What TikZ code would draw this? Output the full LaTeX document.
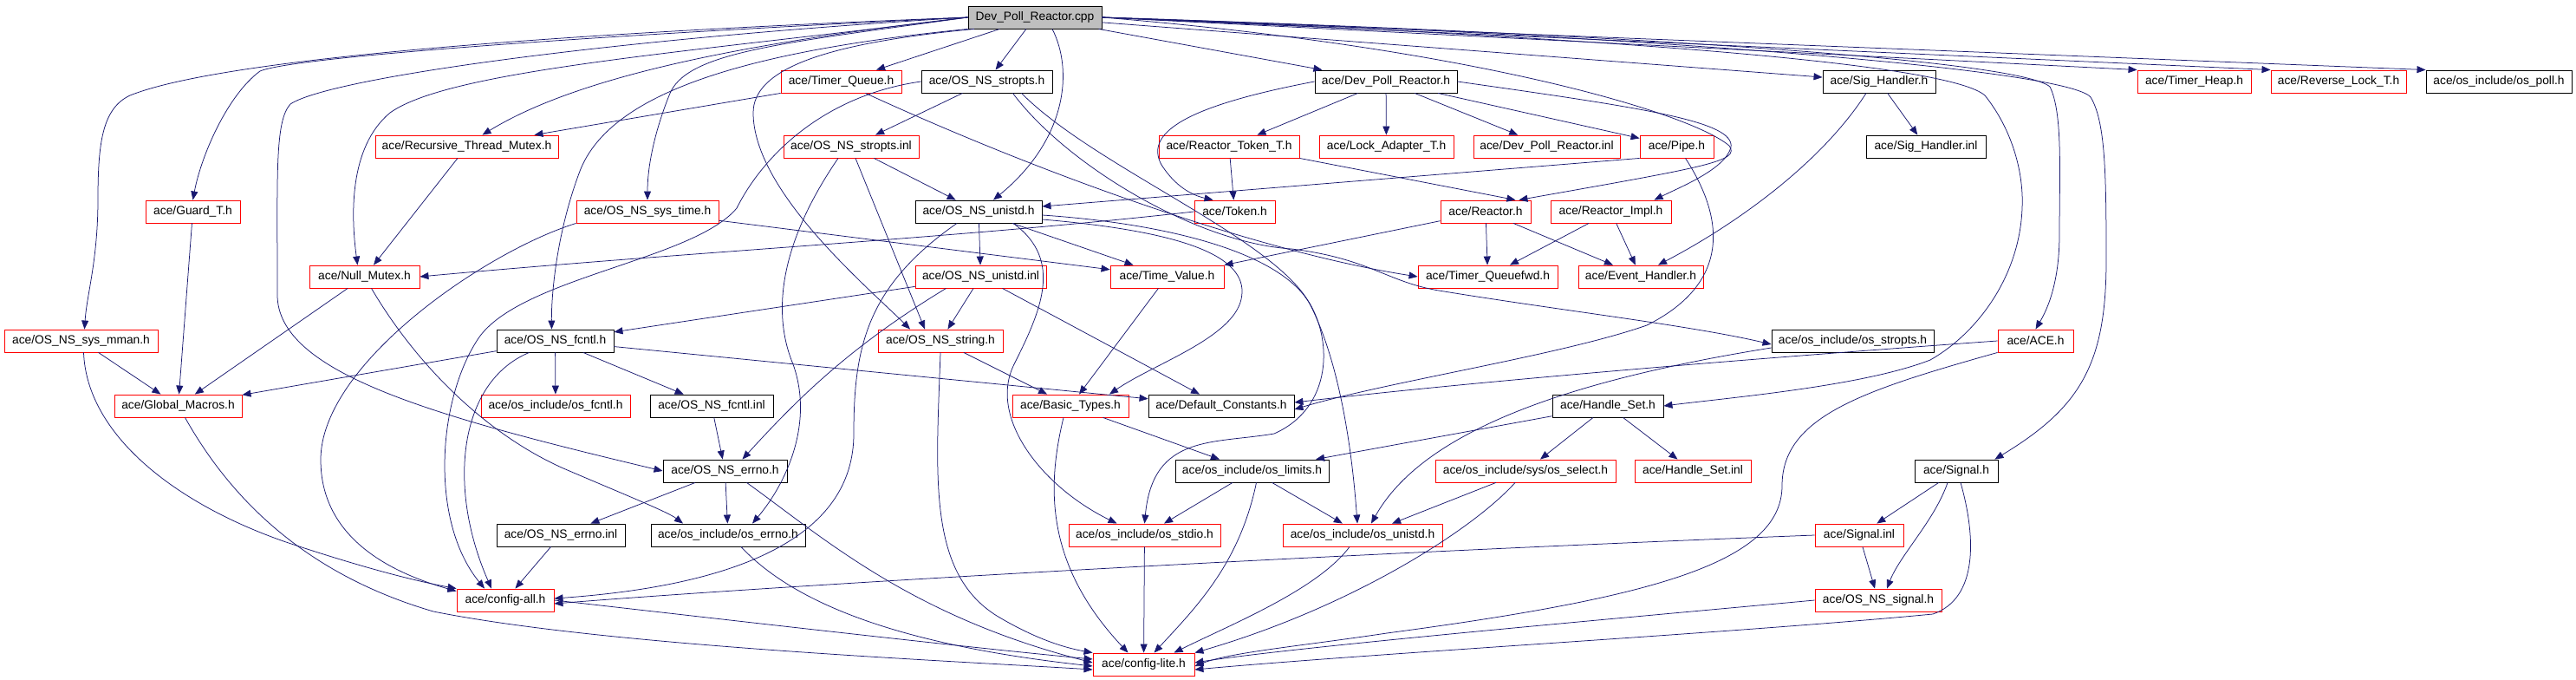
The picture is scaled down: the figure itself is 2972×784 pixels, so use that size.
\documentclass[tikz,border=0pt]{standalone}
\usepackage{fontspec}
\setmainfont{Liberation Sans}
\usetikzlibrary{arrows.meta}
\definecolor{edgecol}{RGB}{25,25,112}
\definecolor{rootfill}{RGB}{191,191,191}
\begin{document}
\begin{tikzpicture}[x=1pt,y=-1pt,
  box/.style={rectangle, minimum height=26pt, inner sep=0pt, line width=0.9pt, font=\fontsize{13.8}{15}\selectfont},
  rb/.style={box, draw=red},
  bb/.style={box, draw=black},
  rootbox/.style={box, draw=black, fill=rootfill},
  e/.style={draw=edgecol, line width=0.75pt, -{Triangle[length=10pt,width=8pt]}}]
\useasboundingbox (0,0) rectangle (2972,784);
\fill[white] (0,0) rectangle (2972,784);
% row 1
\node[rootbox, minimum width=154pt] (root) at (1194,20) {Dev\_Poll\_Reactor.cpp};
% row 2
\node[rb, minimum width=139pt] (tq) at (970.5,94) {ace/Timer\_Queue.h};
\node[bb, minimum width=151pt] (stropts) at (1138.5,94) {ace/OS\_NS\_stropts.h};
\node[bb, minimum width=164pt] (dprh) at (1599,94) {ace/Dev\_Poll\_Reactor.h};
\node[bb, minimum width=130pt] (sigh) at (2168,94) {ace/Sig\_Handler.h};
\node[rb, minimum width=131pt] (theap) at (2531.5,94) {ace/Timer\_Heap.h};
\node[rb, minimum width=156pt] (rlock) at (2698,94) {ace/Reverse\_Lock\_T.h};
\node[bb, minimum width=168pt] (ospoll) at (2883,94) {ace/os\_include/os\_poll.h};
% row 3
\node[rb, minimum width=211pt] (rtm) at (538.5,169) {ace/Recursive\_Thread\_Mutex.h};
\node[rb, minimum width=156pt] (stroptsinl) at (982,169) {ace/OS\_NS\_stropts.inl};
\node[rb, minimum width=162pt] (rtt) at (1418,169) {ace/Reactor\_Token\_T.h};
\node[rb, minimum width=155pt] (lock) at (1599.5,169) {ace/Lock\_Adapter\_T.h};
\node[rb, minimum width=169pt] (dprinl) at (1784.5,169) {ace/Dev\_Poll\_Reactor.inl};
\node[rb, minimum width=85pt] (pipe) at (1934.5,169) {ace/Pipe.h};
\node[bb, minimum width=138pt] (sighinl) at (2222,169) {ace/Sig\_Handler.inl};
% row 4
\node[rb, minimum width=109pt] (guard) at (222.5,244) {ace/Guard\_T.h};
\node[rb, minimum width=164pt] (systime) at (747,244) {ace/OS\_NS\_sys\_time.h};
\node[bb, minimum width=146pt] (unistd) at (1129,244) {ace/OS\_NS\_unistd.h};
\node[rb, minimum width=93pt] (token) at (1424.5,244) {ace/Token.h};
\node[rb, minimum width=104pt] (reactor) at (1714,244) {ace/Reactor.h};
\node[rb, minimum width=139pt] (rimpl) at (1858.5,244) {ace/Reactor\_Impl.h};
% row 5
\node[rb, minimum width=127pt] (nullm) at (420.5,319) {ace/Null\_Mutex.h};
\node[rb, minimum width=151pt] (unistdinl) at (1131.5,319) {ace/OS\_NS\_unistd.inl};
\node[rb, minimum width=131pt] (timev) at (1346.5,319) {ace/Time\_Value.h};
\node[rb, minimum width=161pt] (tqfwd) at (1716.5,319) {ace/Timer\_Queuefwd.h};
\node[rb, minimum width=144pt] (evh) at (1893,319) {ace/Event\_Handler.h};
% row 6
\node[rb, minimum width=177pt] (mman) at (93.5,393) {ace/OS\_NS\_sys\_mman.h};
\node[bb, minimum width=135pt] (fcntl) at (640.5,393) {ace/OS\_NS\_fcntl.h};
\node[rb, minimum width=144pt] (string) at (1085,393) {ace/OS\_NS\_string.h};
\node[bb, minimum width=187pt] (osstropts) at (2137.5,393) {ace/os\_include/os\_stropts.h};
\node[rb, minimum width=87pt] (ace) at (2348.5,393) {ace/ACE.h};
% row 7
\node[rb, minimum width=147pt] (gmac) at (205.5,468) {ace/Global\_Macros.h};
\node[rb, minimum width=172pt] (osfcntl) at (641,468) {ace/os\_include/os\_fcntl.h};
\node[bb, minimum width=142pt] (fcntlinl) at (821,468) {ace/OS\_NS\_fcntl.inl};
\node[rb, minimum width=134pt] (basic) at (1235,468) {ace/Basic\_Types.h};
\node[bb, minimum width=168pt] (defc) at (1409,468) {ace/Default\_Constants.h};
\node[bb, minimum width=128pt] (hset) at (1855,468) {ace/Handle\_Set.h};
% row 8
\node[bb, minimum width=143pt] (errno) at (836.5,543) {ace/OS\_NS\_errno.h};
\node[bb, minimum width=177pt] (oslimits) at (1444.5,543) {ace/os\_include/os\_limits.h};
\node[rb, minimum width=208pt] (osselect) at (1760,543) {ace/os\_include/sys/os\_select.h};
\node[rb, minimum width=134pt] (hsetinl) at (1953,543) {ace/Handle\_Set.inl};
\node[bb, minimum width=96pt] (signal) at (2257,543) {ace/Signal.h};
% row 9
\node[bb, minimum width=148pt] (errnoinl) at (647,617) {ace/OS\_NS\_errno.inl};
\node[bb, minimum width=178pt] (oserrno) at (840,617) {ace/os\_include/os\_errno.h};
\node[rb, minimum width=175pt] (osstdio) at (1320.5,617) {ace/os\_include/os\_stdio.h};
\node[rb, minimum width=184pt] (osunistd) at (1572,617) {ace/os\_include/os\_unistd.h};
\node[rb, minimum width=102pt] (signalinl) at (2145,617) {ace/Signal.inl};
% row 10
\node[rb, minimum width=112pt] (configall) at (583,692) {ace/config-all.h};
\node[rb, minimum width=146pt] (ossignal) at (2167,692) {ace/OS\_NS\_signal.h};
% row 11
\node[rb, minimum width=117pt] (configlite) at (1319.5,766) {ace/config-lite.h};

% ---- edges from root, left side
\draw[e] (root.west) .. controls (600,40) and (250,70) .. (150,110) .. controls (118,125) and (113,165) .. (113,230) .. controls (113,300) and (100,340) .. ([xshift=4]mman.north);
\draw[e] (root.west) .. controls (700,40) and (340,65) .. (300,82) .. controls (262,110) and (232,180) .. (guard.north);
\draw[e] (root.west) .. controls (900,45) and (680,80) .. ([xshift=18]rtm.north);
\draw[e] (root.west) .. controls (800,60) and (520,80) .. (450,130) .. controls (402,170) and (405,250) .. ([xshift=-8]nullm.north);
\draw[e] (root.south west) .. controls (850,60) and (700,110) .. (668,200) .. controls (642,270) and (636,340) .. ([xshift=-4]fcntl.north);
\draw[e] (root.west) .. controls (900,50) and (790,60) .. (772,110) .. controls (756,150) and (747,190) .. (systime.north);
\draw[e] (root.west) .. controls (700,45) and (380,90) .. (335,120) .. controls (317,140) and (320,200) .. (320,340) .. controls (320,430) and (500,480) .. (errno.west);
\draw[e] (root) -- (tq);
\draw[e] (root) -- (stropts);
\draw[e] ([xshift=20]root.south) .. controls (1238,80) and (1232,160) .. ([xshift=17]unistd.north);
\draw[e] ([xshift=-70]root.south) .. controls (950,50) and (869,80) .. (869,130) .. controls (869,220) and (1000,330) .. ([xshift=-35]string.north);
% ---- edges from root, right side
\draw[e] (root) -- (dprh);
\draw[e] (root.east) .. controls (1700,55) and (1950,130) .. (1995,168) .. controls (2008,186) and (1970,192) .. ([xshift=-14]reactor.north east);
\draw[e] (root) -- (sigh);
\draw[e] (root.east) -- (theap.north west);
\draw[e] (root.east) -- (rlock.north west);
\draw[e] (root.east) -- (ospoll.north west);
\draw[e] (root.east) .. controls (1900,40) and (2330,70) .. (2365,100) .. controls (2380,130) and (2376,200) .. (2376,270) .. controls (2376,330) and (2360,360) .. (ace.north);
\draw[e] (root.east) .. controls (1900,40) and (2385,80) .. (2412,112) .. controls (2429,140) and (2430,200) .. (2430,300) .. controls (2430,420) and (2400,470) .. ([xshift=-4]signal.north east);
\draw[e] (root.east) .. controls (1900,45) and (2250,75) .. (2290,110) .. controls (2322,150) and (2335,200) .. (2333,240) .. controls (2330,320) and (2280,385) .. (2227,415) .. controls (2150,445) and (2000,458) .. (hset.east);
% ---- mutex / macros
\draw[e] (tq.south west) -- ([xshift=-28]rtm.north east);
\draw[e] ([xshift=28]tq.south) .. controls (1200,200) and (1450,290) .. (tqfwd.west);
\draw[e] (rtm) -- (nullm);
\draw[e] (token.west) .. controls (1100,275) and (800,290) .. (nullm.east);
\draw[e] (nullm) -- (gmac);
\draw[e] ([xshift=8]nullm.south) .. controls (480,420) and (560,500) .. (650,540) .. controls (720,570) and (770,590) .. ([xshift=-52]oserrno.north);
\draw[e] (guard) -- (gmac);
\draw[e] (mman) -- (gmac);
\draw[e] ([xshift=3]mman.south) .. controls (100,500) and (200,580) .. (330,625) .. controls (420,655) and (480,670) .. (configall.north west);
\draw[e] (systime.south west) .. controls (560,290) and (370,420) .. (370,530) .. controls (370,620) and (450,660) .. ([yshift=-3]configall.north west);
\draw[e] (systime) -- (timev);
% ---- fcntl
\draw[e] (fcntl) -- (gmac);
\draw[e] (fcntl) -- (osfcntl);
\draw[e] (fcntl) -- (fcntlinl);
\draw[e] (fcntl) -- (defc);
\draw[e] ([xshift=-30]fcntl.south) .. controls (530,440) and (515,560) .. ([xshift=-16]configall.north);
\draw[e] (fcntlinl) -- (errno);
% ---- stropts
\draw[e] (stropts.west) .. controls (950,110) and (880,180) .. (850,240) .. controls (800,300) and (600,320) .. (552,390) .. controls (505,460) and (495,600) .. ([xshift=-24]configall.north);
\draw[e] (stropts) -- (stroptsinl);
\draw[e] ([xshift=30]stropts.south) .. controls (1230,190) and (1380,280) .. (1490,287) .. controls (1580,298) and (1600,325) .. (1660,335) .. controls (1800,358) and (1950,375) .. ([yshift=-4]osstropts.west);
\draw[e] ([xshift=40]stropts.south) .. controls (1260,190) and (1460,270) .. (1508,345) .. controls (1538,390) and (1538,470) .. (1470,500) .. controls (1400,512) and (1330,500) .. (osstdio.north);
\draw[e] ([xshift=-15]stroptsinl.south) .. controls (900,280) and (890,360) .. (915,420) .. controls (940,490) and (905,560) .. ([xshift=28]oserrno.north);
\draw[e] ([xshift=5]stroptsinl.south) -- ([xshift=-18]string.north);
\draw[e] (stroptsinl) -- (unistd);
% ---- unistd
\draw[e] (unistd) -- (unistdinl);
\draw[e] (unistd) -- (timev);
\draw[e] ([xshift=40]unistd.south) .. controls (1228,300) and (1200,360) .. (1170,420) .. controls (1140,480) and (1200,560) .. ([xshift=-32]osstdio.north);
\draw[e] ([yshift=-4]unistd.east) .. controls (1350,258) and (1480,292) .. (1512,352) .. controls (1546,420) and (1560,520) .. ([xshift=-6]osunistd.north);
\draw[e] ([yshift=-9]unistd.east) .. controls (1380,268) and (1442,300) .. (1432,345) .. controls (1422,390) and (1330,420) .. ([xshift=45]basic.north);
\draw[e] ([xshift=-25]unistd.south) .. controls (1000,330) and (985,400) .. (985,500) .. controls (985,620) and (850,675) .. ([yshift=2]configall.east);
\draw[e] (unistdinl) -- (fcntl);
\draw[e] (unistdinl) -- (string);
\draw[e] ([xshift=-40]unistdinl.south) .. controls (980,400) and (920,460) .. ([xshift=20]errno.north);
\draw[e] ([xshift=25]unistdinl.south) -- ([xshift=-25]defc.north);
% ---- string / basic types
\draw[e] (string) -- (basic);
\draw[e] (string.south) .. controls (1080,550) and (1070,660) .. (1150,710) .. controls (1200,740) and (1235,748) .. (configlite.north west);
\draw[e] (timev) -- (basic);
\draw[e] (basic) -- (oslimits);
\draw[e] ([xshift=-8]basic.south) .. controls (1208,560) and (1205,650) .. ([xshift=-18]configlite.north);
\draw[e] (oslimits) -- (osstdio);
\draw[e] (oslimits) -- (osunistd);
\draw[e] ([xshift=5]oslimits.south) .. controls (1430,650) and (1380,700) .. ([xshift=12]configlite.north);
\draw[e] (osstdio) -- (configlite);
\draw[e] ([xshift=-15]osunistd.south) .. controls (1520,680) and (1420,720) .. ([xshift=35]configlite.north);
\draw[e] (osselect) -- (osunistd);
\draw[e] ([xshift=-12]osselect.south) .. controls (1700,610) and (1560,700) .. (configlite.north east);
\draw[e] (hset) -- (oslimits);
\draw[e] (hset) -- (osselect);
\draw[e] (hset) -- (hsetinl);
% ---- reactor
\draw[e] (dprh) -- (lock);
\draw[e] (dprh) -- (dprinl);
\draw[e] (dprh) -- (pipe);
\draw[e] (dprh) -- (rtt);
\draw[e] (dprh.west) .. controls (1380,120) and (1318,150) .. (1340,190) .. controls (1356,215) and (1375,225) .. ([xshift=-25]token.north);
\draw[e] (dprh.east) .. controls (1900,125) and (2002,140) .. (1997,170) .. controls (1990,195) and (1940,215) .. ([xshift=50]rimpl.north);
\draw[e] (rtt) -- (token);
\draw[e] (rtt.south east) -- ([xshift=-18]reactor.north east);
\draw[e] (pipe.south west) -- ([yshift=6]unistd.east);
\draw[e] ([xshift=10]pipe.south) .. controls (1995,260) and (1990,330) .. (1900,375) .. controls (1800,410) and (1600,440) .. ([yshift=-4]defc.east);
\draw[e] (reactor) -- (timev);
\draw[e] (reactor) -- (tqfwd);
\draw[e] (reactor) -- (evh);
\draw[e] (rimpl) -- (tqfwd);
\draw[e] (rimpl) -- (evh);
\draw[e] ([xshift=-15]sigh.south) .. controls (2100,190) and (2000,260) .. ([xshift=20]evh.north);
\draw[e] (sigh) -- (sighinl);
\draw[e] ([yshift=-8]osstropts.west) .. controls (1800,440) and (1640,500) .. ([xshift=10]osunistd.north);
% ---- ACE / signal
\draw[e] (ace.west) .. controls (2000,415) and (1700,440) .. ([yshift=4]defc.east);
\draw[e] (ace.south west) .. controls (2150,450) and (2056,480) .. (2056,560) .. controls (2056,650) and (1900,690) .. (1600,730) .. controls (1500,745) and (1420,752) .. ([yshift=-2]configlite.east);
\draw[e] (signal) -- (signalinl);
\draw[e] ([xshift=-10]signal.south) .. controls (2232,600) and (2192,640) .. ([xshift=10]ossignal.north);
\draw[e] ([xshift=5]signal.south) .. controls (2280,620) and (2282,690) .. (2230,708) .. controls (2000,730) and (1600,752) .. ([yshift=-6]configlite.east);
\draw[e] (signalinl) -- (ossignal);
\draw[e] (signalinl.west) .. controls (1500,640) and (900,675) .. ([yshift=-4]configall.east);
\draw[e] (ossignal.west) .. controls (1900,710) and (1500,745) .. ([yshift=2]configlite.east);
% ---- errno
\draw[e] (errno) -- (oserrno);
\draw[e] (errno) -- (errnoinl);
\draw[e] ([xshift=25]errno.south) .. controls (950,620) and (1050,710) .. ([yshift=2]configlite.west);
\draw[e] ([xshift=15]oserrno.south) .. controls (920,700) and (1050,745) .. ([yshift=-2]configlite.west);
\draw[e] (errnoinl) -- (configall);
\draw[e] ([xshift=8]gmac.south) .. controls (280,600) and (380,670) .. (500,705) .. controls (700,745) and (1100,762) .. ([yshift=-6]configlite.west);
\draw[e] (configall.east) .. controls (800,710) and (1100,745) .. ([yshift=6]configlite.west);
\end{tikzpicture}
\end{document}
